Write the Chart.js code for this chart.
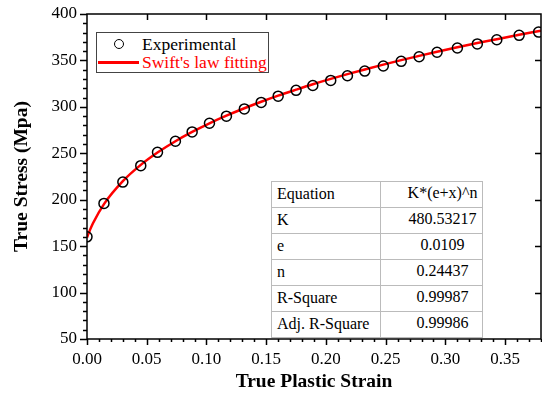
<!DOCTYPE html>
<html>
<head>
<meta charset="utf-8">
<script src="https://cdn.jsdelivr.net/npm/chart.js@4"></script>
<style>
  body { margin: 0; background: #fff; }
  #wrap { position: relative; width: 542px; height: 394px; font-family: "Liberation Serif", "Times New Roman", serif; }
  #legend { position: absolute; left: 96px; top: 32px; width: 171px; height: 39px; border: 1px solid #444; background: #fff; font-size: 17.5px; }
  #legend .row { position: absolute; left: 0; height: 20px; line-height: 20px; }
  #legend .dot { position: absolute; left: 17px; top: 5px; width: 8px; height: 8px; border: 1.5px solid #000; border-radius: 50%; }
  #legend .ln { position: absolute; left: 1px; top: 9px; width: 41px; height: 2.5px; background: #f00; }
  #legend .txt { position: absolute; left: 45px; white-space: nowrap; }
  #stats { position: absolute; left: 271px; top: 181px; width: 212px; height: 134px; border-collapse: collapse; border: 1px solid #555; font-size: 16px; background: #fff; }
  #stats td { border: 1px solid #bbb; height: 21px; line-height: 18px; }
  #stats td:first-child { width: 103px; text-align: left; padding: 0 0 2px 5px; }
  #stats td:last-child { text-align: center; padding: 0 0 4px 22px; }
</style>
</head>
<body>
<div id="wrap">
  <canvas id="c" width="542" height="394"></canvas>
  <div id="legend">
    <div class="row" style="top:1px"><span class="dot"></span><span class="txt">Experimental</span></div>
    <div class="row" style="top:19px"><span class="ln"></span><span class="txt" style="color:#f00">Swift's law fitting</span></div>
  </div>
  <table id="stats"></table>
</div>
<script>
const expStrain = [0, 0.0142, 0.030, 0.045, 0.059, 0.074, 0.088, 0.1025, 0.1167, 0.1317, 0.1458, 0.160, 0.175,
  0.189, 0.204, 0.218, 0.2325, 0.248, 0.263, 0.278, 0.293, 0.310, 0.3267, 0.343, 0.3617, 0.378];
const expStress = [160, 196, 219, 236.7, 251, 263, 273, 282.3, 290, 297.8, 304.8, 311.5, 317.8,
  323, 328.5, 333.5, 338.5, 344, 349, 354, 358.8, 363.4, 367.8, 372.3, 377, 380.5];

// fitted curve
const fitStrain = [0, 0.001, 0.0025, 0.005, 0.0142, 0.030, 0.045, 0.059, 0.074, 0.088, 0.1025, 0.1167, 0.1317, 0.1458,
  0.160, 0.175, 0.189, 0.204, 0.218, 0.2325, 0.248, 0.263, 0.278, 0.293, 0.310, 0.3267, 0.343, 0.3617, 0.38];
const fitStress = [159.3, 162.7, 167.5, 174.7, 195.3, 220.0, 237.5, 250.8, 263.0, 273.0, 282.3, 290.5, 298.5, 305.5,
  312.1, 318.5, 324.3, 330.1, 335.2, 340.3, 345.5, 350.3, 354.9, 359.3, 364.1, 368.7, 372.9, 377.6, 382.0];

const tableNames = ['Equation', 'K', 'e', 'n', 'R-Square', 'Adj. R-Square'];
const tableValues = ['K*(e+x)^n', '480.53217', '0.0109', '0.24437', '0.99987', '0.99986'];

const stats = document.getElementById('stats');
tableNames.forEach((name, i) => {
    const tr = document.createElement('tr');
    tr.innerHTML = '<td>' + name + '</td><td>' + tableValues[i] + '</td>';
    stats.appendChild(tr);
});

const serif = '"Liberation Serif", "Times New Roman", serif';

// frame + ticks like the origin plot
const frame = {
    id: 'frame',
    afterDraw(chart) {
        const { ctx, chartArea: a, scales: { x, y } } = chart;
        ctx.save();
        ctx.strokeStyle = '#000';
        ctx.lineWidth = 1.5;
        ctx.strokeRect(a.left, a.top, a.right - a.left, a.bottom - a.top);
        ctx.beginPath();
        for (let i = 0; i <= 38; i++) {
            const px = Math.round(x.getPixelForValue(i / 100)) + 0.5;
            const major = i % 5 === 0;
            ctx.moveTo(px, a.bottom);
            ctx.lineTo(px, a.bottom + (major ? 6 : 3));
            if (major && i > 0) {
                ctx.moveTo(px, a.top);
                ctx.lineTo(px, a.top + 6);
            }
        }
        for (let v = 50; v <= 400; v += 10) {
            const py = Math.round(y.getPixelForValue(v)) + 0.5;
            const major = v % 50 === 0;
            ctx.moveTo(a.left, py);
            ctx.lineTo(a.left - (major ? 7 : 4), py);
            if (major && v > 50 && v < 400) {
                ctx.moveTo(a.right, py);
                ctx.lineTo(a.right - 6, py);
            }
        }
        ctx.stroke();
        ctx.restore();
    }
};

const chart = new Chart(document.getElementById('c'), {
    type: 'scatter',
    data: {
        datasets: [{
            label: 'Experimental',
            data: expStrain.map((s, i) => ({ x: s, y: expStress[i] })),
            pointStyle: 'circle',
            pointRadius: 5,
            pointBorderWidth: 1.5,
            pointBorderColor: '#000',
            pointBackgroundColor: 'rgba(0,0,0,0)',
            showLine: false,
            clip: 0
        }, {
            label: "Swift's law fitting",
            data: fitStrain.map((s, i) => ({ x: s, y: fitStress[i] })),
            showLine: true,
            borderColor: '#f00',
            borderWidth: 2.5,
            pointRadius: 0,
            cubicInterpolationMode: 'monotone'
        }]
    },
    options: {
        responsive: false,
        animation: false,
        layout: { autoPadding: false, padding: { top: 14, right: 1, left: 0, bottom: 0 } },
        plugins: { legend: { display: false }, tooltip: { enabled: false } },
        scales: {
            x: {
                type: 'linear',
                min: 0,
                max: 0.38,
                grid: { display: false, drawTicks: false },
                border: { display: false },
                ticks: {
                    stepSize: 0.05,
                    includeBounds: false,
                    padding: 10,
                    color: '#000',
                    font: { family: serif, size: 17 },
                    callback: v => v.toFixed(2)
                },
                title: {
                    display: true,
                    text: 'True Plastic Strain',
                    color: '#000',
                    font: { family: serif, size: 19.5, weight: 'bold' },
                    padding: { top: 4, bottom: 0 }
                },
                afterFit(scale) {
                    scale.height = 55;
                    scale.paddingLeft = 0;
                    scale.paddingRight = 0;
                }
            },
            y: {
                min: 50,
                max: 400,
                grid: { display: false, drawTicks: false },
                border: { display: false },
                ticks: {
                    stepSize: 50,
                    padding: 10,
                    color: '#000',
                    font: { family: serif, size: 17 }
                },
                title: {
                    display: true,
                    text: 'True Stress (Mpa)',
                    color: '#000',
                    font: { family: serif, size: 19.5, weight: 'bold' },
                    padding: { top: 10, bottom: 4 }
                },
                afterFit(scale) {
                    scale.width = 87;
                    scale.paddingTop = 0;
                    scale.paddingBottom = 0;
                }
            }
        }
    },
    plugins: [frame]
});

// nudge the padding so the plot box lands where the original one is
const pad = chart.options.layout.padding;
for (let k = 0; k < 3; k++) {
    const a = chart.chartArea;
    pad.top += 14 - a.top;
    pad.right += a.right - 541;
    chart.update();
}
</script>
</body>
</html>
